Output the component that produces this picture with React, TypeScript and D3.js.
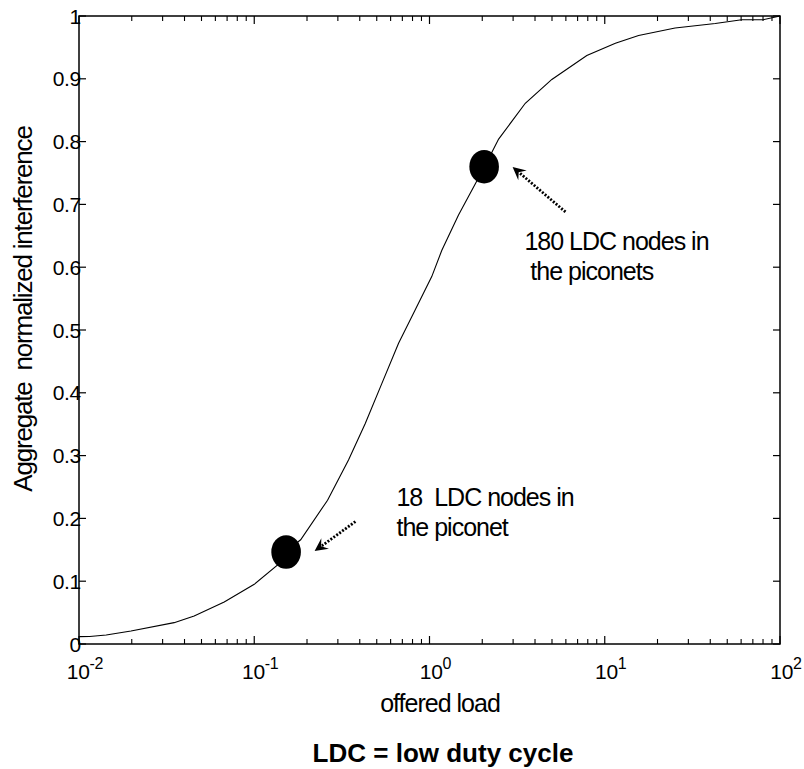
import React from "react";
import * as d3 from "d3";

// Offered load (log axis) and aggregate normalized interference along the curve
const loads = [
  0.01, 0.0115, 0.0143, 0.0198, 0.0349, 0.0454, 0.0674, 0.1, 0.136, 0.151,
  0.184, 0.262, 0.345, 0.43, 0.535, 0.666, 0.828, 1.03, 1.176, 1.464, 2.06,
  2.48, 3.52, 4.99, 7.9, 11.5, 15.6, 25.2, 42.7, 60.4, 80, 100,
];
const interference = [
  0.0117, 0.012, 0.0143, 0.0207, 0.034, 0.0446, 0.067, 0.095, 0.126, 0.147,
  0.166, 0.229, 0.293, 0.351, 0.415, 0.479, 0.532, 0.585, 0.627, 0.683, 0.76,
  0.804, 0.861, 0.899, 0.937, 0.9565, 0.969, 0.981, 0.988, 0.994, 0.994, 1.0,
];

// Highlighted operating points (18 and 180 LDC nodes)
const markerLoads = [0.152, 2.05];
const markerValues = [0.1465, 0.76];

// Arrow tips / tails in data units
const arrowTipLoads = [0.221, 2.98];
const arrowTipValues = [0.148, 0.7596];
const arrowTailLoads = [0.378, 5.97];
const arrowTailValues = [0.195, 0.688];

// Annotation texts and their anchors in data units
const noteLines = [
  ["18  LDC nodes in", "the piconet"],
  ["180 LDC nodes in", " the piconets"],
];
const noteLoads = [0.648, 3.48];
const noteValues = [0.22, 0.627];

const yTicks = [0, 0.1, 0.2, 0.3, 0.4, 0.5, 0.6, 0.7, 0.8, 0.9, 1];
const yTickLabels = ["0", "0.1", "0.2", "0.3", "0.4", "0.5", "0.6", "0.7", "0.8", "0.9", "1"];
const xExponents = [-2, -1, 0, 1, 2];

const W = 804;
const H = 769;
const left = 79;
const right = 780;
const top = 16;
const bottom = 644;
const font = "'Liberation Sans', Arial, Helvetica, sans-serif";

export default function App() {
  const x = d3.scaleLog().domain([0.01, 100]).range([left, right]);
  const y = d3.scaleLinear().domain([0, 1]).range([bottom, top]);

  const line = d3
    .line<number>()
    .x((_, i) => x(loads[i]))
    .y((d) => y(d));

  const minor: number[] = [];
  for (let e = -2; e < 2; e++) {
    for (let m = 2; m <= 9; m++) minor.push(m * Math.pow(10, e));
  }

  const arrows = arrowTipLoads.map((_, i) => {
    const tx = x(arrowTipLoads[i]);
    const ty = y(arrowTipValues[i]);
    const sx = x(arrowTailLoads[i]);
    const sy = y(arrowTailValues[i]);
    const dx = sx - tx;
    const dy = sy - ty;
    const len = Math.hypot(dx, dy);
    const ux = dx / len;
    const uy = dy / len;
    const px = -uy;
    const py = ux;
    const headLen = 13;
    const headHalf = 6.5;
    const notch = 8;
    const head = [
      [tx, ty],
      [tx + ux * headLen + px * headHalf, ty + uy * headLen + py * headHalf],
      [tx + ux * notch, ty + uy * notch],
      [tx + ux * headLen - px * headHalf, ty + uy * headLen - py * headHalf],
    ];
    return {
      shaft: { x1: sx, y1: sy, x2: tx + ux * (notch + 1), y2: ty + uy * (notch + 1) },
      head: "M" + head.map((p) => p.join(",")).join("L") + "Z",
    };
  });

  return (
    <svg
      width={W}
      height={H}
      style={{ position: "absolute", left: 0, top: 0, background: "#fff" }}
      fontFamily={font}
    >
      <rect x={0} y={0} width={W} height={H} fill="#fff" />

      {/* curve */}
      <path d={line(interference) ?? ""} fill="none" stroke="#000" strokeWidth={1.1} />

      {/* axes box */}
      <rect
        x={left}
        y={top}
        width={right - left}
        height={bottom - top}
        fill="none"
        stroke="#000"
        strokeWidth={1.5}
      />

      {/* x ticks */}
      {xExponents.map((e) => {
        const px = x(Math.pow(10, e));
        return (
          <g key={"xt" + e}>
            <line x1={px} x2={px} y1={bottom} y2={bottom - 8} stroke="#000" strokeWidth={1.2} />
            <line x1={px} x2={px} y1={top} y2={top + 8} stroke="#000" strokeWidth={1.2} />
            <text x={px + 6} y={679} textAnchor="middle" fontSize={21} letterSpacing={-0.3} fill="#000">
              10
              <tspan dy={-10} fontSize={16}>
                {String(e)}
              </tspan>
            </text>
          </g>
        );
      })}
      {minor.map((v) => {
        const px = x(v);
        return (
          <g key={"mt" + v}>
            <line x1={px} x2={px} y1={bottom} y2={bottom - 5} stroke="#000" strokeWidth={1.1} />
            <line x1={px} x2={px} y1={top} y2={top + 5} stroke="#000" strokeWidth={1.1} />
          </g>
        );
      })}

      {/* y ticks */}
      {yTicks.map((v, i) => {
        const py = y(v);
        return (
          <g key={"yt" + v}>
            <line x1={left} x2={left + 7} y1={py} y2={py} stroke="#000" strokeWidth={1.2} />
            <line x1={right} x2={right - 7} y1={py} y2={py} stroke="#000" strokeWidth={1.2} />
            <text
              x={81}
              y={py + 7.5}
              textAnchor="end"
              fontSize={21}
              letterSpacing={-0.3}
              fill="#000"
            >
              {yTickLabels[i]}
            </text>
          </g>
        );
      })}

      {/* operating points */}
      {markerLoads.map((v, i) => (
        <ellipse
          key={"m" + i}
          cx={x(v)}
          cy={y(markerValues[i])}
          rx={14.8}
          ry={16.8}
          fill="#000"
        />
      ))}

      {/* dotted arrows */}
      {arrows.map((a, i) => (
        <g key={"a" + i}>
          <line
            {...a.shaft}
            stroke="#000"
            strokeWidth={2.8}
            strokeDasharray="2 1.6"
          />
          <path d={a.head} fill="#000" />
        </g>
      ))}

      {/* annotations */}
      {noteLines.map((lines, i) => (
        <text
          key={"n" + i}
          x={x(noteLoads[i])}
          y={y(noteValues[i])}
          fontSize={25}
          letterSpacing={-1}
          fill="#000"
          style={{ whiteSpace: "pre" }}
        >
          {lines.map((t, j) => (
            <tspan key={j} x={x(noteLoads[i])} dy={j === 0 ? 0 : 30}>
              {t}
            </tspan>
          ))}
        </text>
      ))}

      {/* axis labels */}
      <text x={440} y={712} textAnchor="middle" fontSize={25} letterSpacing={-1} fill="#000">
        offered load
      </text>
      <text
        transform="translate(32,309) rotate(-90)"
        textAnchor="middle"
        fontSize={26}
        letterSpacing={-1.2}
        fill="#000"
        style={{ whiteSpace: "pre" }}
      >
        Aggregate  normalized interference
      </text>
      <text
        x={443}
        y={762}
        textAnchor="middle"
        fontSize={26}
        fontWeight="bold"
        fill="#000"
      >
        LDC = low duty cycle
      </text>
    </svg>
  );
}
